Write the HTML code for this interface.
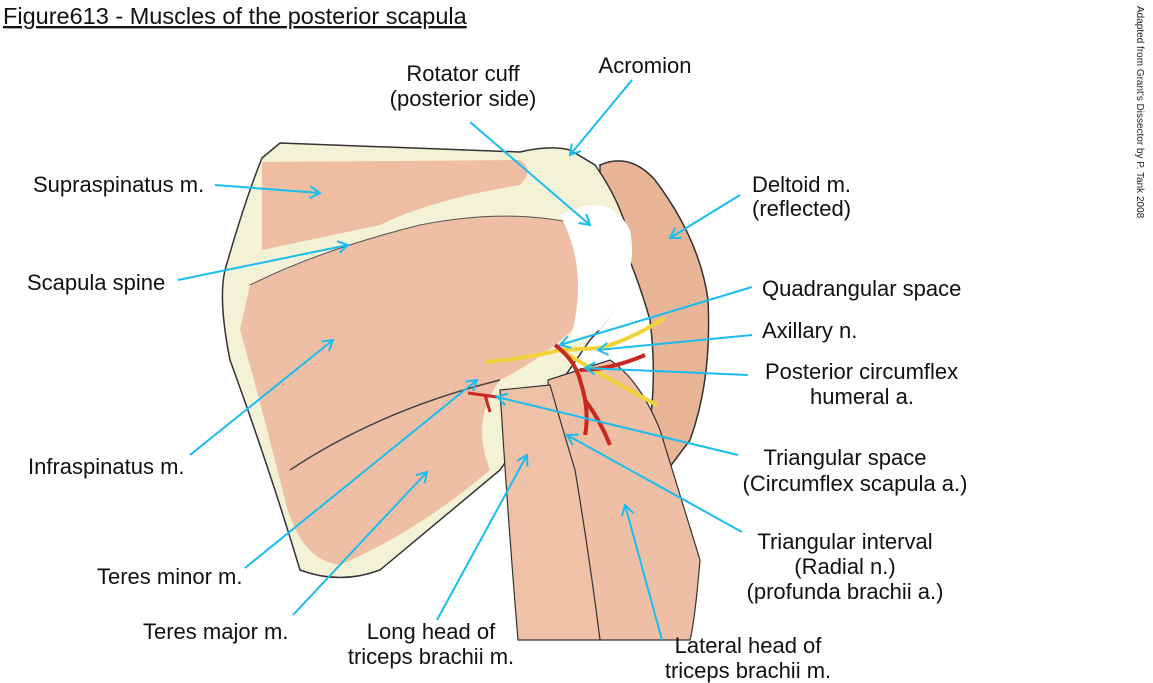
<!DOCTYPE html>
<html><head><meta charset="utf-8"><style>
html,body{margin:0;padding:0;background:#fff;}
svg{display:block;font-family:"Liberation Sans",Arial,sans-serif;}
</style></head><body>
<svg width="1153" height="683" viewBox="0 0 1153 683" xmlns="http://www.w3.org/2000/svg">
<defs>
<marker id="ah" markerWidth="14" markerHeight="14" refX="12" refY="7" orient="auto" markerUnits="userSpaceOnUse">
<polyline points="2,1 12,7 2,13" fill="none" stroke="#19bdf0" stroke-width="2"/>
</marker>
</defs>
<text x="3" y="24" font-size="23.5" fill="#111" text-decoration="underline">Figure613 - Muscles of the posterior scapula</text>
<text transform="translate(1137,6) rotate(90)" font-size="10" fill="#222">Adapted from Grant's Dissector by P. Tank 2008</text>

<!-- deltoid -->
<path d="M600,165 Q630,152 655,180 Q700,240 708,300 Q712,380 690,440 L660,480 L640,470 Q660,400 650,320 Q630,250 600,200 Z" fill="#e9b597" stroke="#333" stroke-width="1.5"/>
<!-- scapula -->
<path d="M280,143 L520,152 Q550,145 570,150 L595,165 Q620,200 630,240 Q630,300 590,340 L500,470 L380,570 Q340,585 300,570 Q270,470 230,360 Q218,300 225,270 Q245,200 262,158 Z" fill="#f3f1d6" stroke="#333" stroke-width="1.5"/>
<!-- supraspinatus -->
<path d="M262,162 L520,160 Q535,170 520,185 Q430,200 380,225 L262,250 Z" fill="#eebda2"/>
<!-- infraspinatus / teres -->
<path d="M250,285 Q320,250 420,225 Q520,205 600,230 Q615,260 600,300 Q560,350 500,380 Q470,420 490,470 Q420,530 340,565 Q300,560 285,500 Q260,400 240,330 Z" fill="#eebfa4"/>
<path d="M250,285 Q320,250 420,225 Q520,205 600,230" fill="none" stroke="#555" stroke-width="1"/>
<path d="M290,470 Q380,410 500,380" fill="none" stroke="#444" stroke-width="1.5"/>
<!-- white head region -->
<path d="M560,215 Q610,190 630,230 Q640,280 600,330 L570,340 Q590,270 560,215 Z" fill="#fff"/>
<!-- lateral head triceps -->
<path d="M548,380 L610,360 Q640,380 660,430 L700,560 Q695,620 690,640 L600,640 Q580,520 550,420 Z" fill="#eebfa4" stroke="#333" stroke-width="1.2"/>
<!-- long head triceps -->
<path d="M500,390 L550,385 Q560,420 575,470 Q590,560 600,640 L518,640 Q508,520 500,390 Z" fill="#efc2a8" stroke="#333" stroke-width="1.2"/>
<!-- vessels/nerves -->
<path d="M486,362 Q530,358 560,350 L600,348 Q630,340 665,318 M560,350 Q610,380 657,405" fill="none" stroke="#f2d43a" stroke-width="4"/>
<path d="M555,345 Q575,360 580,380 Q590,410 585,435 M585,400 Q600,420 610,445 M580,370 Q610,370 645,355" fill="none" stroke="#c8281e" stroke-width="4"/>
<path d="M468,393 L497,397 M485,395 L490,412" fill="none" stroke="#c8281e" stroke-width="3"/>

<g fill="#111" font-size="22">
<text x="463" y="81" text-anchor="middle">Rotator cuff</text>
<text x="463" y="106" text-anchor="middle">(posterior side)</text>
<text x="645" y="73" text-anchor="middle">Acromion</text>
<text x="33" y="192">Supraspinatus m.</text>
<text x="752" y="192">Deltoid m.</text>
<text x="752" y="216">(reflected)</text>
<text x="27" y="290">Scapula spine</text>
<text x="762" y="296">Quadrangular space</text>
<text x="762" y="338">Axillary n.</text>
<text x="765" y="379">Posterior circumflex</text>
<text x="862" y="404" text-anchor="middle">humeral a.</text>
<text x="28" y="474">Infraspinatus m.</text>
<text x="845" y="465" text-anchor="middle">Triangular space</text>
<text x="855" y="491" text-anchor="middle">(Circumflex scapula a.)</text>
<text x="97" y="584">Teres minor m.</text>
<text x="845" y="549" text-anchor="middle">Triangular interval</text>
<text x="845" y="574" text-anchor="middle">(Radial n.)</text>
<text x="845" y="599" text-anchor="middle">(profunda brachii a.)</text>
<text x="143" y="639">Teres major m.</text>
<text x="431" y="639" text-anchor="middle">Long head of</text>
<text x="431" y="664" text-anchor="middle">triceps brachii m.</text>
<text x="748" y="653" text-anchor="middle">Lateral head of</text>
<text x="748" y="678" text-anchor="middle">triceps brachii m.</text>
</g>

<g stroke="#19bdf0" stroke-width="2" marker-end="url(#ah)">
<line x1="215" y1="185" x2="320" y2="193"/>
<line x1="178" y1="280" x2="348" y2="245"/>
<line x1="470" y1="122" x2="590" y2="225"/>
<line x1="632" y1="80" x2="570" y2="155"/>
<line x1="740" y1="195" x2="670" y2="238"/>
<line x1="752" y1="287" x2="560" y2="345"/>
<line x1="752" y1="335" x2="598" y2="350"/>
<line x1="748" y1="375" x2="585" y2="368"/>
<line x1="190" y1="455" x2="333" y2="340"/>
<line x1="738" y1="455" x2="497" y2="397"/>
<line x1="245" y1="568" x2="477" y2="380"/>
<line x1="742" y1="532" x2="567" y2="435"/>
<line x1="293" y1="615" x2="427" y2="472"/>
<line x1="437" y1="620" x2="527" y2="455"/>
<line x1="662" y1="640" x2="625" y2="505"/>
</g>
</svg>
</body></html>
